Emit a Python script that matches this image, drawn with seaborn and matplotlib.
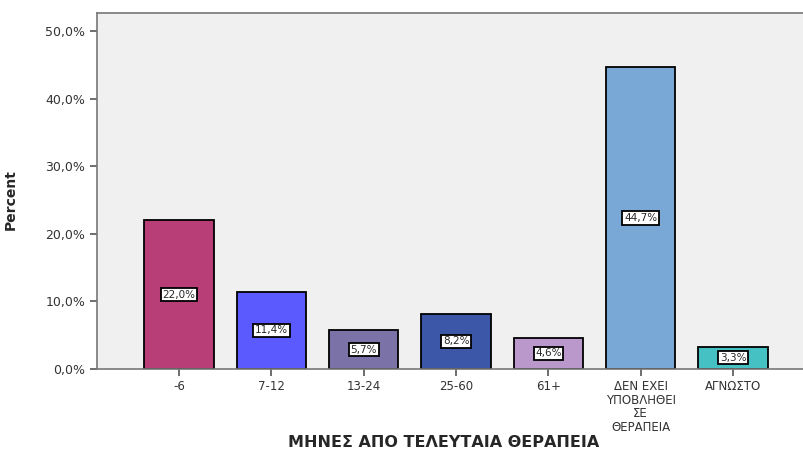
import matplotlib
matplotlib.use("Agg")
import matplotlib.pyplot as plt
import seaborn as sns
import pandas as pd
from matplotlib.ticker import FuncFormatter

# data
categories = ["-6", "7-12", "13-24", "25-60", "61+",
              "ΔΕΝ ΕΧΕΙ\nΥΠΟΒΛΗΘΕΙ\nΣΕ\nΘΕΡΑΠΕΙΑ", "ΑΓΝΩΣΤΟ"]
percent = [22.0, 11.4, 5.7, 8.2, 4.6, 44.7, 3.3]
colors = ["#B83E78", "#5A5AFF", "#7B73A8", "#3C56A8",
          "#BB98CC", "#79A8D6", "#45C1C4"]

df = pd.DataFrame({"month": categories, "percent": percent})

sns.set_theme(style="ticks")
plt.rcParams["font.family"] = ["DejaVu Sans"]

fig = plt.figure(figsize=(8.04, 4.55), dpi=100)
ax = fig.add_axes([0.1206, 0.189, 0.8794, 0.782])
ax.set_facecolor("#F0F0F0")

sns.barplot(data=df, x="month", y="percent", hue="month", palette=colors,
            legend=False, width=0.75, edgecolor="black", linewidth=1.3,
            saturation=1, ax=ax)

for i, v in enumerate(percent):
    ax.text(i, v / 2, f"{v:.1f}%".replace(".", ","), ha="center", va="center",
            fontsize=7.5,
            bbox=dict(boxstyle="square,pad=0.15", facecolor="white",
                      edgecolor="black", linewidth=1.3))

ax.set_ylim(0, 52.66)
ax.set_xlim(-0.89, 6.77)
ax.set_yticks([0, 10, 20, 30, 40, 50])
ax.yaxis.set_major_formatter(FuncFormatter(lambda y, _: f"{y:.1f}%".replace(".", ",")))
ax.tick_params(axis="both", direction="out", length=5, width=1.2,
               color="#555555", labelsize=9, labelcolor="#333333")
ax.tick_params(axis="x", labelsize=8.5, pad=3)
for lbl in ax.get_xticklabels():
    lbl.set_linespacing(1.05)
for s in ["left", "bottom", "top"]:
    ax.spines[s].set_color("#777777")
    ax.spines[s].set_linewidth(1.2)
ax.spines["right"].set_visible(False)

ax.set_ylabel("Percent", fontsize=10, fontweight="bold")
ax.yaxis.set_label_coords(-0.112, 0.475)
ax.set_xlabel("ΜΗΝΕΣ ΑΠΟ ΤΕΛΕΥΤΑΙΑ ΘΕΡΑΠΕΙΑ", fontsize=11.5, fontweight="bold")
ax.xaxis.set_label_coords(0.49, -0.185)

fig.savefig("out.png", dpi=100)
